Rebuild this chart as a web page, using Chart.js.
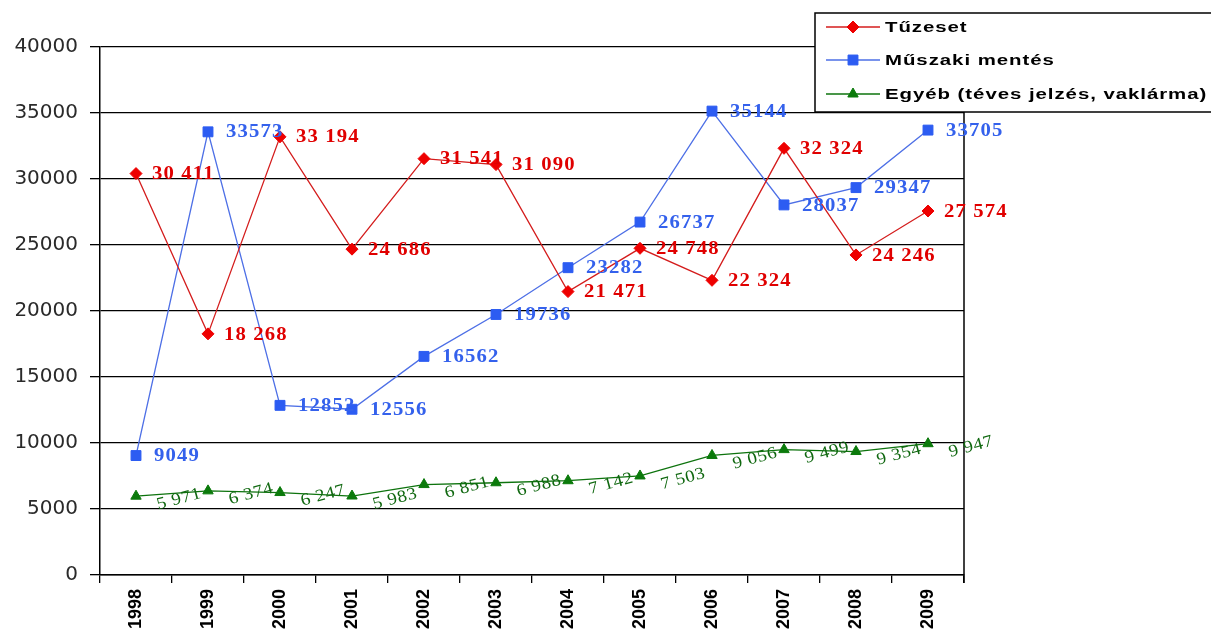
<!DOCTYPE html>
<html>
<head>
<meta charset="utf-8">
<script src="https://cdn.jsdelivr.net/npm/chart.js@4.4.1/dist/chart.umd.min.js"></script>
<style>
  html, body { margin: 0; padding: 0; background: #fff; }
  #wrap { position: relative; width: 1211px; height: 632px; }
</style>
</head>
<body>
<div id="wrap"><canvas id="c"></canvas></div>
<script>
// ---- data ----
const years = ['1998','1999','2000','2001','2002','2003','2004','2005','2006','2007','2008','2009'];
const tuzeset = [30411, 18268, 33194, 24686, 31541, 31090, 21471, 24748, 22324, 32324, 24246, 27574];
const muszaki = [9049, 33573, 12852, 12556, 16562, 19736, 23282, 26737, 35144, 28037, 29347, 33705];
const egyeb   = [5971, 6374, 6247, 5983, 6851, 6988, 7142, 7503, 9056, 9499, 9354, 9947];
const seriesNames = ['Tűzeset', 'Műszaki mentés', 'Egyéb (téves jelzés, vaklárma)'];
const yMin = 0, yMax = 40000, yStep = 5000;

// ---- styles ----
const RED_LINE = '#d41c1c', RED_PT = '#ee0000', RED_TXT = '#e00000';
const BLUE_LINE = '#4d6fe6', BLUE_PT = '#2c5cf2', BLUE_TXT = '#3461ec';
const GREEN_LINE = '#0d730d', GREEN_PT = '#0b7a0b', GREEN_TXT = '#106810';

function spaced(v) { return String(v).replace(/\B(?=(\d{3})+(?!\d))/g, ' '); }

function drawTxt(ctx, txt, x, y, o) {
  ctx.save();
  ctx.translate(x, y);
  if (o.rot) ctx.rotate(o.rot);
  ctx.scale(o.sx || 1, 1);
  ctx.font = o.font;
  ctx.letterSpacing = (o.ls || 0) + 'px';
  ctx.fillStyle = o.color;
  ctx.textAlign = 'left';
  ctx.textBaseline = 'middle';
  ctx.fillText(txt, 0, 0);
  ctx.restore();
}

const labelSpecs = [
  { fmt: spaced, dx: 16, dy: 1, rot: 0, o: { font: 'bold 18px "Liberation Serif"', color: RED_TXT, sx: 1.15, ls: 1 } },
  { fmt: v => String(v), dx: 18, dy: 1, rot: 0, o: { font: 'bold 18px "Liberation Serif"', color: BLUE_TXT, sx: 1.15, ls: 1 } },
  { fmt: spaced, dx: 21, dy: 9, rot: -15 * Math.PI / 180, o: { font: '17px "Liberation Serif"', color: GREEN_TXT, sx: 1.12, ls: 0.5 } }
];

const decorPlugin = {
  id: 'decor',
  afterDatasetsDraw(chart) {
    const ctx = chart.ctx, a = chart.chartArea;
    // right frame line
    ctx.save();
    ctx.strokeStyle = '#000';
    ctx.lineWidth = 1.5;
    ctx.beginPath();
    ctx.moveTo(a.right, a.top);
    ctx.lineTo(a.right, a.bottom + 8);
    ctx.stroke();
    ctx.restore();
    // data labels
    chart.data.datasets.forEach((ds, di) => {
      const meta = chart.getDatasetMeta(di);
      const sp = labelSpecs[di];
      meta.data.forEach((pt, i) => {
        const o = Object.assign({}, sp.o, { rot: sp.rot });
        drawTxt(ctx, sp.fmt(ds.data[i]), pt.x + sp.dx, pt.y + sp.dy, o);
      });
    });
  },
  afterDraw(chart) {
    const ctx = chart.ctx;
    // legend box
    const bx = 815, by = 13, bw = 420, bh = 99;
    ctx.save();
    ctx.fillStyle = '#fff';
    ctx.fillRect(bx, by, bw, bh);
    ctx.strokeStyle = '#000';
    ctx.lineWidth = 1.5;
    ctx.strokeRect(bx, by, bw, bh);
    const rows = [27, 60, 94];
    chart.data.datasets.forEach((ds, di) => {
      const y = rows[di];
      ctx.strokeStyle = ds.borderColor;
      ctx.lineWidth = 1.3;
      ctx.beginPath();
      ctx.moveTo(826, y);
      ctx.lineTo(880, y);
      ctx.stroke();
      ctx.fillStyle = ds.pointBackgroundColor;
      ctx.strokeStyle = ds.pointBorderColor;
      ctx.lineWidth = 1;
      Chart.helpers.drawPoint(ctx, { pointStyle: ds.pointStyle, radius: ds.pointRadius, rotation: 0, borderWidth: 1 }, 853, y);
      drawTxt(ctx, ds.label, 885, y + 1, { font: 'bold 15px "Liberation Sans"', color: '#000', sx: 1.36, ls: 0.7 });
    });
    ctx.restore();
  }
};

const ctx = document.getElementById('c');
new Chart(ctx, {
  type: 'line',
  data: {
    labels: years,
    datasets: [
      { label: seriesNames[0], data: tuzeset, borderColor: RED_LINE, borderWidth: 1.3,
        pointStyle: 'rectRot', pointRadius: 6, pointBackgroundColor: RED_PT, pointBorderColor: RED_PT, pointBorderWidth: 1, tension: 0 },
      { label: seriesNames[1], data: muszaki, borderColor: BLUE_LINE, borderWidth: 1.3,
        pointStyle: 'rect', pointRadius: 7, pointBackgroundColor: BLUE_PT, pointBorderColor: BLUE_PT, pointBorderWidth: 1, tension: 0 },
      { label: seriesNames[2], data: egyeb, borderColor: GREEN_LINE, borderWidth: 1.3,
        pointStyle: 'triangle', pointRadius: 6, pointBackgroundColor: GREEN_PT, pointBorderColor: GREEN_PT, pointBorderWidth: 1, tension: 0 }
    ]
  },
  options: {
    responsive: true,
    maintainAspectRatio: false,
    animation: false,
    layout: { padding: { left: 0, right: 247, top: 47, bottom: 0 } },
    plugins: { legend: { display: false }, tooltip: { enabled: false } },
    scales: {
      x: {
        offset: true,
        grid: { display: true, offset: true, drawOnChartArea: false, drawTicks: true, tickLength: 8, color: '#000', lineWidth: 1.3 },
        border: { display: true, color: '#000', width: 1.5 },
        ticks: { maxRotation: 90, minRotation: 90, autoSkip: false, padding: 6, color: '#000',
                 font: { family: '"Liberation Sans", Arial, sans-serif', size: 18, weight: 'bold' } },
        afterFit(scale) { scale.height = 57; }
      },
      y: {
        min: yMin, max: yMax,
        grid: { color: '#000', lineWidth: 1.3, drawTicks: true, tickLength: 10 },
        border: { display: true, color: '#000', width: 1.5 },
        ticks: { stepSize: yStep, padding: 12, color: '#2a2a2a',
                 font: { family: '"DejaVu Sans", sans-serif', size: 20 },
                 callback: v => String(v) },
        afterFit(scale) { scale.width = 100; }
      }
    }
  },
  plugins: [decorPlugin]
});
</script>
</body>
</html>
